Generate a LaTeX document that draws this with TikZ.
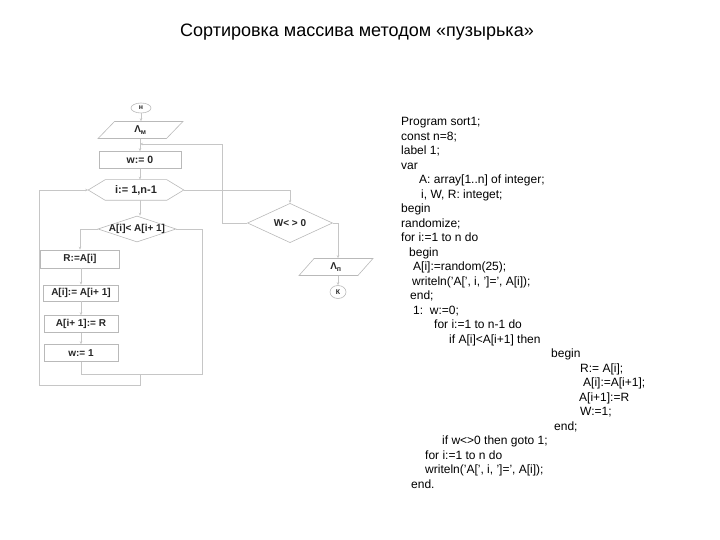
\documentclass[tikz,border=0pt]{standalone}
\usepackage{fontspec}
\setmainfont{Liberation Sans}
\usetikzlibrary{shapes.geometric,arrows.meta}

\tikzset{
  line/.style={draw=gray!45, line width=0.6pt},
  arr/.style={line, -{Stealth[length=3pt,width=2.5pt]}},
  blk/.style={draw=gray!55, line width=0.6pt, inner sep=0pt, minimum height=17pt,
    font=\bfseries\fontsize{10}{10}\selectfont, text=black!85},
  term/.style={blk, ellipse, minimum width=20pt, minimum height=10pt,
    font=\bfseries\fontsize{7}{7}\selectfont},
  io/.style={blk, trapezium, trapezium left angle=65, trapezium right angle=115,
    trapezium stretches=true},
  cond/.style={blk, diamond},
  code/.style={anchor=base west, inner sep=0pt, font=\fontsize{12}{12}\selectfont},
}

\begin{document}
\begin{tikzpicture}[x=1pt, y=-1pt]
    \useasboundingbox (0,0) rectangle (720,540);

    % Title
    \node[font=\fontsize{18}{18}\selectfont] (title) at (357,32)
        {Сортировка массива методом «пузырька»};

    % Main column
    \node[term] (start) at (141,108) {н};
    \node[io, minimum width=85pt] (in1) at (140.5,130) {Λ\textsubscript{м}};
    \node[blk, minimum width=82pt, font=\bfseries\fontsize{10.5}{10.5}\selectfont] (w0) at (140,160) {w:= 0};
    \node[blk, draw=none, minimum width=95pt, minimum height=20pt,
          font=\bfseries\fontsize{11}{11}\selectfont] (loop) at (136,190) {i:= 1,n-1};
    \draw[draw=gray!55, line width=0.6pt] (loop.west) -- ([xshift=17pt]loop.north west)
        -- ([xshift=-17pt]loop.north east) -- (loop.east)
        -- ([xshift=-17pt]loop.south east) -- ([xshift=17pt]loop.south west) -- cycle;
    \node[cond, minimum width=78pt, minimum height=26pt] (cmp) at (137,229)
        {\makebox[0pt]{A[i]< A[i+ 1]}};

    % Swap branch
    \node[blk, minimum width=79pt, minimum height=18pt] (r) at (80,259) {R:=A[i]};
    \node[blk, minimum width=75pt, minimum height=16pt] (s1) at (81,293) {A[i]:= A[i+ 1]};
    \node[blk, minimum width=74pt] (s2) at (81,324) {A[i+ 1]:= R};
    \node[blk, minimum width=74pt] (w1) at (81,353) {w:= 1};

    % Check and output
    \node[cond, minimum width=85pt, minimum height=30pt] (chk) at (290,223) {W< > 0};
    \node[io, minimum width=74pt] (out) at (336,267) {Λ\textsubscript{п}};
    \node[term, minimum width=16pt, minimum height=13pt] (fin) at (338,292) {К};

    % Points on the lines
    \coordinate (back) at (140,144);
    \coordinate (cr) at (202,374);
    \coordinate (jn) at (140,374);
    \coordinate (jb) at (140,385);
    \coordinate (lb) at (39,385);
    \coordinate (cl) at (222,144);

    % Connectors
    \draw[arr] (start) -- (start |- in1.north);
    \draw[arr] (w0 |- in1.south) -- (w0);
    \draw[arr] (w0) -- (w0 |- loop.north);
    \draw[arr] (w0 |- loop.south) -- (w0 |- cmp.north);
    \draw[arr] (cmp.west) -| (r.north);
    \draw[arr] (r.south -| s1) -- (s1);
    \draw[arr] (s1) -- (s2);
    \draw[arr] (s2) -- (w1);
    \draw[line] (w1.south) |- (jn);
    \draw[line] (cmp.east) -| (cr) -- (jn);
    \draw[arr] (jn) -- (jb) -- (lb) |- (loop.west);
    \draw[arr] (loop.east) -| (chk.north);
    \draw[arr] (chk.west) -| (cl) -- (back);
    \draw[arr] (chk.east) -| (fin |- out.north);
    \draw[arr] (fin |- out.south) -- (fin);

    % Program text
    \foreach \k/\x/\t in {
        0/401/{Program sort1;},
        1/401/{const n=8;},
        2/401/{label 1;},
        3/401/{var},
        4/419/{A: array[1..n] of integer;},
        5/421/{i, W, R: integet;},
        6/401/{begin},
        7/401/{randomize;},
        8/401/{for i:=1 to n do},
        9/409/{begin},
        10/413/{A[i]:=random(25);},
        11/412/{writeln('A[', i, ']=', A[i]);},
        12/410/{end;},
        13/413/{1:\ \ w:=0;},
        14/434/{for i:=1 to n-1 do},
        15/449/{if A[i]<A[i+1] then},
        16/551/{begin},
        17/580/{R:= A[i];},
        18/583/{A[i]:=A[i+1];},
        19/579/{A[i+1]:=R},
        20/580/{W:=1;},
        21/554/{end;},
        22/442/{if w<>0 then goto 1;},
        23/425/{for i:=1 to n do},
        24/425/{writeln('A[', i, ']=', A[i]);},
        25/411/{end.}} {
        \node[code] (c\k) at (\x,{126+14.48*\k}) {\t};
    }
\end{tikzpicture}
\end{document}
